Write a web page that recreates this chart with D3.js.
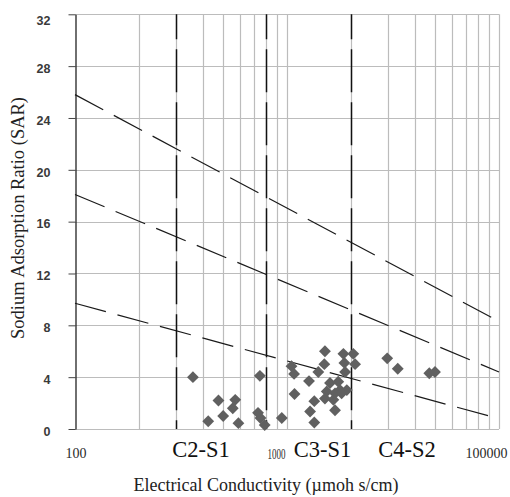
<!DOCTYPE html>
<html>
<head>
<meta charset="utf-8">
<script src="https://cdn.jsdelivr.net/npm/d3@7"></script>
<style>
  html, body { margin: 0; padding: 0; background: #fff; }
  svg { display: block; }
</style>
</head>
<body>
<svg id="chart" width="510" height="497"></svg>
<script>
// Sample measurements: electrical conductivity (µmhos/cm) and sodium adsorption ratio
const ecValues = [360, 475, 570, 555, 500, 425, 590, 745, 730, 750, 785, 945,
  1050, 1080, 1085, 1270, 1285, 1345, 1345, 1405, 1500, 1510, 1510, 1540, 1595,
  1655, 1685, 1745, 1780, 1845, 1865, 1880, 1915, 2055, 2095, 2970, 3330, 4690, 4990,
  1685, 1810];
const sarValues = [4.0, 2.2, 2.25, 1.6, 1.0, 0.6, 0.45, 4.1, 1.25, 0.85, 0.3, 0.85,
  4.85, 4.25, 2.7, 3.7, 1.35, 2.15, 0.5, 4.4, 5.0, 6.0, 2.35, 2.9, 3.55,
  2.25, 1.45, 3.65, 3.0, 5.8, 5.1, 4.4, 3.0, 5.8, 5.0, 5.45, 4.65, 4.3, 4.4,
  2.75, 2.75];

// Sodium hazard boundaries (SAR at EC = 100 and EC = 10000)
const boundaryEC = [100, 10000];
const boundarySARStart = [25.8, 18.1, 9.7];
const boundarySAREnd = [8.3, 4.4, 0.8];

// Salinity class boundaries (vertical dashed lines)
const salinityBoundaries = [300, 800, 2000];

// Class labels and the conductivity each is centred on
const classLabels = ["C2-S1", "C3-S1", "C4-S2"];
const classLabelEC = [393, 1471, 3683];

// Axis ticks
const yTicks = [0, 4, 8, 12, 16, 20, 24, 28, 32];
const xTickValues = [100, 1000, 10000];
const xTickLabels = ["100", "1000", "100000"];
const xMinorGrid = [200, 300, 400, 500, 600, 700, 800, 900, 1000,
  2000, 3000, 4000, 5000, 6000, 7000, 8000, 9000, 10000];

const svg = d3.select("#chart");
const plotLeft = 75, plotRight = 499, plotTop = 14.3, plotBottom = 429;

const x = d3.scaleLog().domain([100, 10000]).range([plotLeft, plotRight]);
const y = d3.scaleLinear().domain([0, 32]).range([plotBottom, plotTop]);

const serif = "'Liberation Serif', 'Times New Roman', serif";
const sans = "'Liberation Sans', Arial, sans-serif";
const gridColor = "#bcbcbc";

// Gridlines
const grid = svg.append("g");
grid.selectAll("line.h").data(yTicks).join("line")
  .attr("x1", plotLeft).attr("x2", plotRight)
  .attr("y1", d => Math.round(y(d)) + 0.5).attr("y2", d => Math.round(y(d)) + 0.5)
  .attr("stroke", gridColor).attr("stroke-width", 1.2);
grid.selectAll("line.v").data(xMinorGrid).join("line")
  .attr("x1", d => Math.round(x(d)) + 0.5).attr("x2", d => Math.round(x(d)) + 0.5)
  .attr("y1", plotTop).attr("y2", plotBottom)
  .attr("stroke", gridColor).attr("stroke-width", 1.2);

// Y axis (left line, ticks and labels)
const yAxis = d3.axisLeft(y).tickValues(yTicks).tickSize(7).tickPadding(18).tickSizeOuter(0);
const gy = svg.append("g").attr("transform", `translate(${plotLeft + 0.5},0)`).call(yAxis);
gy.select(".domain").attr("stroke", "#222").attr("stroke-width", 1.3);
gy.selectAll(".tick line").attr("stroke", "#444");
gy.selectAll(".tick text")
  .attr("font-family", sans).attr("font-size", 12.5).attr("font-weight", "bold")
  .attr("fill", "#3a3a3a")
  .attr("dy", d => d === 32 ? "0.8em" : "0.5em");

// Sodium hazard boundary lines
const lineGen = d3.line().x(d => x(d[0])).y(d => y(d[1]));
const boundaries = boundarySARStart.map((s, i) => [[boundaryEC[0], s], [boundaryEC[1], boundarySAREnd[i]]]);
svg.append("g").selectAll("path").data(boundaries).join("path")
  .attr("d", lineGen)
  .attr("fill", "none").attr("stroke", "#1a1a1a").attr("stroke-width", 1.2)
  .attr("stroke-dasharray", "32,12");

// Salinity class boundaries
svg.append("g").selectAll("line").data(salinityBoundaries).join("line")
  .attr("x1", d => Math.round(x(d)) + 0.5).attr("x2", d => Math.round(x(d)) + 0.5)
  .attr("y1", plotTop).attr("y2", plotBottom)
  .attr("stroke", "#111").attr("stroke-width", 1.5)
  .attr("stroke-dasharray", "43,10").attr("stroke-dashoffset", 18);

// Sample points (diamonds)
const diamond = d3.symbol().type(d3.symbolSquare).size(70);
svg.append("g").selectAll("path").data(ecValues.map((e, i) => [e, sarValues[i]])).join("path")
  .attr("d", diamond)
  .attr("transform", d => `translate(${x(d[0])},${y(d[1])}) rotate(45)`)
  .attr("fill", "#606060");

// X tick labels
const xLabelShift = [1, -10.5, -12.5];
svg.append("g").selectAll("text").data(xTickValues).join("text")
  .attr("x", (d, i) => x(d) + xLabelShift[i])
  .attr("y", (d, i) => i === 1 ? 459 : 458)
  .attr("text-anchor", "middle")
  .attr("font-family", serif).attr("font-size", 14).attr("fill", "#2a2a2a")
  .each(function (d, i) {
    const t = d3.select(this).text(xTickLabels[i]);
    if (i === 1) t.attr("textLength", 18).attr("lengthAdjust", "spacingAndGlyphs");
  });

// Class labels
svg.append("g").selectAll("text").data(classLabels).join("text")
  .attr("x", (d, i) => x(classLabelEC[i]))
  .attr("y", 456.5)
  .attr("text-anchor", "middle")
  .attr("font-family", serif).attr("font-size", 22.5).attr("fill", "#111")
  .text(d => d);

// Axis titles
svg.append("text")
  .attr("x", 266).attr("y", 491)
  .attr("text-anchor", "middle")
  .attr("font-family", serif).attr("font-size", 18).attr("fill", "#222")
  .text("Electrical Conductivity (µmoh s/cm)");

svg.append("text")
  .attr("transform", "translate(24,218) rotate(-90)")
  .attr("text-anchor", "middle")
  .attr("font-family", serif).attr("font-size", 18.5).attr("fill", "#222")
  .text("Sodium Adsorption Ratio (SAR)");
</script>
</body>
</html>
